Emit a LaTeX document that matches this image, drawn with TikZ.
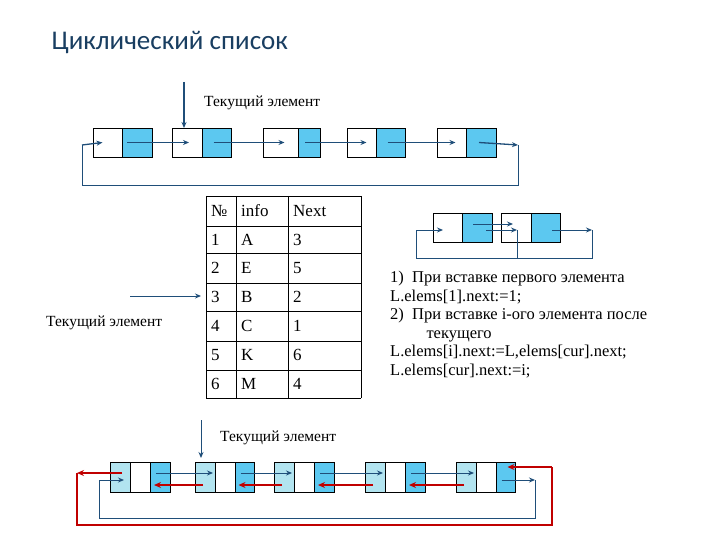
\documentclass[tikz,border=0pt]{standalone}
\usepackage{fontspec}
\setmainfont{Liberation Serif}
\newfontfamily\titlefont{Carlito}
\usetikzlibrary{arrows.meta}
\definecolor{cb}{HTML}{5CC8F0}
\definecolor{cl}{HTML}{B2E4F0}
\definecolor{ar}{HTML}{1F4E79}
\definecolor{rd}{HTML}{C00000}
\begin{document}
\begin{tikzpicture}[x=1pt,y=-1pt,
  cell/.style={draw=black,line width=0.8pt,minimum height=29pt,inner sep=0pt,outer sep=0pt,anchor=north west},
  lnk/.style={draw=ar,line width=0.9pt,-{Stealth[length=6pt,width=5pt]}},
  ln/.style={draw=ar,line width=0.9pt},
  rlnk/.style={draw=rd,line width=1.4pt,-{Stealth[length=7pt,width=6pt]}},
  rln/.style={draw=rd,line width=1.4pt},
  lbl/.style={font=\fontsize{15.5}{18}\selectfont,inner sep=0pt},
  tc/.style={font=\fontsize{17}{19}\selectfont,anchor=west,inner sep=0pt}]
\useasboundingbox (0,0) rectangle (720,540);
\fill[white] (0,0) rectangle (720,540);
\node[anchor=west,text=ar!80!black,font=\titlefont\fontsize{27}{30}\selectfont] (title) at (48,42) {Циклический список};
% top list
\foreach \n/\a/\s/\b in {1/93/122/152,2/172/202/231,3/263/298/320,4/347/376/405,5/437/466/496}{
  \node[cell,minimum width={(\s-\a)*1pt}] (tL\n) at (\a,128) {};
  \node[cell,fill=cb,minimum width={(\b-\s)*1pt}] (tR\n) at (\s,128) {};
}
\coordinate (tt) at (184,82);
\draw[ln,line width=1.3pt,-{Stealth[length=6pt,width=5pt]}] (tt) -- (tL2.north west -| tt);
\node[lbl,anchor=west] (tlab) at (204,103) {Текущий элемент};
\draw[lnk,line width=1.3pt] ([xshift=-10pt]tR1.center) -- ([xshift=2pt]tL2.center);
\draw[lnk] ([xshift=-3pt]tR2.center) -- ([xshift=4pt]tL3.center);
\draw[lnk] ([xshift=-4pt]tR3.center) -- ([xshift=5pt]tL4.center);
\draw[lnk] ([xshift=-3pt]tR4.center) -- ([xshift=4pt]tL5.center);
\coordinate (tr) at (518,145);
\coordinate (tl) at (82,145);
\draw[lnk,line width=1.3pt] ([xshift=-2pt]tR5.center) -- (tr);
\draw[ln] (tr) -- (518,185) -- (82,185) -- (tl);
\draw[lnk,line width=1.3pt] (tl) -- ([xshift=-5pt]tL1.center);
% table
\foreach \x in {206,236,288,361} \draw[line width=0.8pt] (\x,196) -- (\x,398);
\foreach \y in {196,226,253,283,311,341,370,398} \draw[line width=0.8pt] (206,\y) -- (361,\y);
\node[tc] (h1) at (211,211) {№};
\node[tc] (h2) at (241,211) {info};
\node[tc] (h3) at (293,211) {Next};
\foreach \r/\y/\i/\nx in {1/240/A/3,2/268/E/5,3/297/B/2,4/326/C/1,5/355/K/6,6/384/M/4}{
  \node[tc] (n\r) at (211,\y) {\r};
  \node[tc] (i\r) at (241,\y) {\i};
  \node[tc] (x\r) at (293,\y) {\nx};
}
\coordinate (ta) at (130,296);
\draw[lnk] (ta) -- (201,296);
\node[lbl,anchor=west] (mlab) at (46,323) {Текущий элемент};
% small list
\node[cell,minimum width=29pt] (sL1) at (433,213) {};
\node[cell,fill=cb,minimum width=30pt] (sR1) at (462,213) {};
\node[cell,minimum width=30pt] (sL2) at (501,213) {};
\node[cell,fill=cb,minimum width=29pt] (sR2) at (531,213) {};
\coordinate (s1) at (416,230);
\coordinate (s2) at (592,230);
\coordinate (s3) at (517,230);
\draw[lnk] (473,224) -- (513,224);
\draw[lnk] (486,230) -- (s3);
\draw[lnk] (552,230) -- (s2);
\draw[ln] (s3) -- (517,258);
\draw[ln] (s2) -- (592,258) -- (416,258) -- (s1);
\draw[lnk] (s1) -- (443,230);
% right text
\node[align=left,anchor=north west,inner sep=0pt,font=\fontsize{16.5}{18.5}\selectfont] (rt) at (390,271) {%
1)\ \ При вставке первого элемента\\
L.elems[1].next:=1;\\
2)\ \ При вставке i-ого элемента после\\
\hspace*{2.2em}текущего\\
L.elems[i].next:=L,elems[cur].next;\\
L.elems[cur].next:=i;};
% bottom list
\foreach \n/\a/\b/\c/\d in {1/110/130/150/170,2/195/215/235/254,3/274/294/314/334,4/365/385/405/425,5/456/476/496/515}{
  \node[cell,fill=cl,minimum height=30pt,minimum width={(\b-\a)*1pt}] (bA\n) at (\a,462) {};
  \node[cell,minimum height=30pt,minimum width={(\c-\b)*1pt}] (bB\n) at (\b,462) {};
  \node[cell,fill=cb,minimum height=30pt,minimum width={(\d-\c)*1pt}] (bC\n) at (\c,462) {};
}
\coordinate (bt) at (201,420);
\draw[lnk] (bt) -- (201,458);
\node[lbl,anchor=west] (blab) at (220,438) {Текущий элемент};
\foreach \p/\q in {1/2,2/3,3/4,4/5}{
  \draw[lnk] ([xshift=-4pt,yshift=4pt]bC\p.center) -- ([xshift=8pt,yshift=4pt]bA\q.center);
  \draw[rlnk] ([xshift=-2pt,yshift=-8pt]bA\q.center) -- ([xshift=-6pt,yshift=-8pt]bC\p.center);
}
% blue loop
\coordinate (bl) at (99,480);
\coordinate (br) at (535,480);
\draw[lnk] ([xshift=-4pt,yshift=-3pt]bC5.center) -- (br);
\draw[ln] (br) -- (535,518) -- (99,518) -- (bl);
\draw[lnk] (bl) -- ([xshift=4pt,yshift=-3pt]bA1.center);
% red loop
\coordinate (rl) at (77,473);
\coordinate (rr) at (552,467);
\draw[rlnk] ([xshift=2pt,yshift=4pt]bA1.center) -- (rl);
\draw[rln] (rl) -- (77,525) -- (552,525) -- (rr);
\draw[rlnk] (rr) -- ([xshift=2pt,yshift=10pt]bC5.center);
\end{tikzpicture}
\end{document}
